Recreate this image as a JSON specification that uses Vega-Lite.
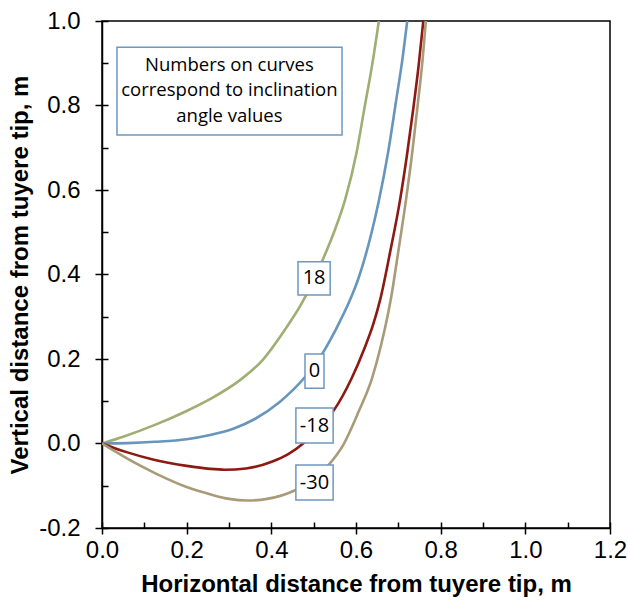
{
  "$schema": "https://vega.github.io/schema/vega-lite/v6.json",
  "width": 508,
  "height": 507,
  "autosize": {"type": "none"},
  "padding": {"left": 102, "top": 21, "right": 18, "bottom": 75},
  "background": "#ffffff",
  "config": {
    "view": {"stroke": "#000000", "strokeWidth": 1.5},
    "axis": {
      "grid": false,
      "domainColor": "#000000",
      "domainWidth": 1.5,
      "tickColor": "#000000",
      "tickWidth": 1.5,
      "labelColor": "#000000",
      "labelFont": "Liberation Sans",
      "labelFontSize": 24,
      "titleColor": "#000000",
      "titleFont": "Liberation Sans",
      "titleFontSize": 24,
      "titleFontWeight": "bold"
    }
  },
  "datasets": {
    "curves": [
      {"angle": "18", "x": 0, "y": 0},
      {"angle": "18", "x": 0.05, "y": 0.016},
      {"angle": "18", "x": 0.125, "y": 0.044},
      {"angle": "18", "x": 0.2, "y": 0.077},
      {"angle": "18", "x": 0.255, "y": 0.105},
      {"angle": "18", "x": 0.326, "y": 0.15},
      {"angle": "18", "x": 0.38, "y": 0.198},
      {"angle": "18", "x": 0.432, "y": 0.269},
      {"angle": "18", "x": 0.472, "y": 0.332},
      {"angle": "18", "x": 0.521, "y": 0.434},
      {"angle": "18", "x": 0.548, "y": 0.5},
      {"angle": "18", "x": 0.574, "y": 0.576},
      {"angle": "18", "x": 0.6016, "y": 0.69},
      {"angle": "18", "x": 0.621, "y": 0.8},
      {"angle": "18", "x": 0.638, "y": 0.895},
      {"angle": "18", "x": 0.654, "y": 1.0},
      {"angle": "0", "x": 0, "y": 0},
      {"angle": "0", "x": 0.06, "y": 0.001},
      {"angle": "0", "x": 0.125, "y": 0.004},
      {"angle": "0", "x": 0.2, "y": 0.01},
      {"angle": "0", "x": 0.255, "y": 0.02},
      {"angle": "0", "x": 0.31, "y": 0.035},
      {"angle": "0", "x": 0.361, "y": 0.058},
      {"angle": "0", "x": 0.4205, "y": 0.099},
      {"angle": "0", "x": 0.48, "y": 0.158},
      {"angle": "0", "x": 0.523, "y": 0.217},
      {"angle": "0", "x": 0.56, "y": 0.285},
      {"angle": "0", "x": 0.586, "y": 0.34},
      {"angle": "0", "x": 0.6055, "y": 0.39},
      {"angle": "0", "x": 0.637, "y": 0.5},
      {"angle": "0", "x": 0.653, "y": 0.57},
      {"angle": "0", "x": 0.676, "y": 0.69},
      {"angle": "0", "x": 0.695, "y": 0.813},
      {"angle": "0", "x": 0.709, "y": 0.905},
      {"angle": "0", "x": 0.721, "y": 1.0},
      {"angle": "-18", "x": 0, "y": 0},
      {"angle": "-18", "x": 0.03, "y": -0.011},
      {"angle": "-18", "x": 0.06, "y": -0.021},
      {"angle": "-18", "x": 0.125, "y": -0.039},
      {"angle": "-18", "x": 0.2, "y": -0.053},
      {"angle": "-18", "x": 0.255, "y": -0.06},
      {"angle": "-18", "x": 0.29, "y": -0.062},
      {"angle": "-18", "x": 0.34, "y": -0.059},
      {"angle": "-18", "x": 0.401, "y": -0.043},
      {"angle": "-18", "x": 0.44, "y": -0.025},
      {"angle": "-18", "x": 0.475, "y": 0.0},
      {"angle": "-18", "x": 0.51, "y": 0.036},
      {"angle": "-18", "x": 0.548, "y": 0.079},
      {"angle": "-18", "x": 0.59, "y": 0.155},
      {"angle": "-18", "x": 0.621, "y": 0.228},
      {"angle": "-18", "x": 0.64, "y": 0.28},
      {"angle": "-18", "x": 0.657, "y": 0.34},
      {"angle": "-18", "x": 0.68, "y": 0.45},
      {"angle": "-18", "x": 0.704, "y": 0.576},
      {"angle": "-18", "x": 0.72, "y": 0.68},
      {"angle": "-18", "x": 0.735, "y": 0.79},
      {"angle": "-18", "x": 0.748, "y": 0.895},
      {"angle": "-18", "x": 0.759, "y": 1.0},
      {"angle": "-30", "x": 0, "y": 0},
      {"angle": "-30", "x": 0.03, "y": -0.018},
      {"angle": "-30", "x": 0.06, "y": -0.036},
      {"angle": "-30", "x": 0.125, "y": -0.07},
      {"angle": "-30", "x": 0.2, "y": -0.103},
      {"angle": "-30", "x": 0.255, "y": -0.12},
      {"angle": "-30", "x": 0.3, "y": -0.131},
      {"angle": "-30", "x": 0.342, "y": -0.135},
      {"angle": "-30", "x": 0.39, "y": -0.131},
      {"angle": "-30", "x": 0.4575, "y": -0.11},
      {"angle": "-30", "x": 0.5, "y": -0.085},
      {"angle": "-30", "x": 0.535, "y": -0.051},
      {"angle": "-30", "x": 0.57, "y": -0.003},
      {"angle": "-30", "x": 0.606, "y": 0.075},
      {"angle": "-30", "x": 0.638, "y": 0.155},
      {"angle": "-30", "x": 0.659, "y": 0.232},
      {"angle": "-30", "x": 0.682, "y": 0.34},
      {"angle": "-30", "x": 0.7, "y": 0.455},
      {"angle": "-30", "x": 0.718, "y": 0.576},
      {"angle": "-30", "x": 0.733, "y": 0.69},
      {"angle": "-30", "x": 0.747, "y": 0.813},
      {"angle": "-30", "x": 0.757, "y": 0.905},
      {"angle": "-30", "x": 0.765, "y": 1.0}
    ],
    "labels": [
      {"text": "18", "x1": 0.463, "x2": 0.539, "y1": 0.3515, "y2": 0.43, "xc": 0.501, "yc": 0.391},
      {"text": "0", "x1": 0.4795, "x2": 0.5244, "y1": 0.131, "y2": 0.212, "xc": 0.502, "yc": 0.1715},
      {"text": "-18", "x1": 0.458, "x2": 0.546, "y1": 0.001, "y2": 0.084, "xc": 0.502, "yc": 0.0425},
      {"text": "-30", "x1": 0.458, "x2": 0.546, "y1": -0.134, "y2": -0.051, "xc": 0.502, "yc": -0.0925}
    ],
    "note": [
      {"x1": 0.0354, "x2": 0.567, "y1": 0.73, "y2": 0.938}
    ],
    "noteText": [
      {"text": "Numbers on curves", "xc": 0.301, "yc": 0.896},
      {"text": "correspond to inclination", "xc": 0.301, "yc": 0.837},
      {"text": "angle values", "xc": 0.301, "yc": 0.775}
    ]
  },
  "resolve": {"axis": {"x": "independent", "y": "independent"}},
  "layer": [
    {
      "data": {"name": "curves"},
      "mark": {"type": "line", "strokeWidth": 2.6, "interpolate": "monotone", "clip": true},
      "encoding": {
        "x": {
          "field": "x", "type": "quantitative",
          "scale": {"domain": [0, 1.2], "nice": false, "zero": false},
          "axis": {
            "orient": "bottom",
            "values": [0, 0.2, 0.4, 0.6, 0.8, 1.0, 1.2],
            "labelExpr": "replace(format(datum.value, '.1f'), '\u2212', '-')",
            "title": "Horizontal distance from tuyere tip, m",
            "tickSize": 6,
            "labelPadding": 4,
            "titlePadding": 10,
            "labelFlush": false,
            "labelOverlap": false
          }
        },
        "y": {
          "field": "y", "type": "quantitative",
          "scale": {"domain": [-0.2, 1.0], "nice": false, "zero": false},
          "axis": {
            "orient": "left",
            "values": [-0.2, 0, 0.2, 0.4, 0.6, 0.8, 1.0],
            "labelExpr": "replace(format(datum.value, '.1f'), '\u2212', '-')",
            "title": "Vertical distance from tuyere tip, m",
            "tickSize": 7,
            "labelPadding": 15,
            "titlePadding": 6,
            "labelFlush": false,
            "labelOverlap": false
          }
        },
        "color": {
          "field": "angle", "type": "nominal",
          "scale": {"domain": ["18", "0", "-18", "-30"], "range": ["#9fae73", "#6795bb", "#8c1a12", "#a99b78"]},
          "legend": null
        },
        "detail": {"field": "angle"}
      }
    },
    {
      "data": {"name": "labels"},
      "mark": {"type": "rect", "fill": "#ffffff", "stroke": "#6f98bf", "strokeWidth": 1.5},
      "encoding": {
        "x": {
          "field": "x1", "type": "quantitative",
          "scale": {"domain": [0, 1.2], "nice": false, "zero": false},
          "axis": {
            "orient": "bottom",
            "values": [0, 0.1, 0.2, 0.3, 0.4, 0.5, 0.6, 0.7, 0.8, 0.9, 1.0, 1.1, 1.2],
            "labels": false, "domain": false, "title": null,
            "tickSize": 6, "offset": -6
          }
        },
        "x2": {"field": "x2"},
        "y": {
          "field": "y1", "type": "quantitative",
          "scale": {"domain": [-0.2, 1.0], "nice": false, "zero": false},
          "axis": {
            "orient": "left",
            "values": [-0.2, -0.1, 0, 0.1, 0.2, 0.3, 0.4, 0.5, 0.6, 0.7, 0.8, 0.9, 1.0],
            "labels": false, "domain": false, "title": null,
            "tickSize": 6, "offset": -6
          }
        },
        "y2": {"field": "y2"}
      }
    },
    {
      "data": {"name": "labels"},
      "mark": {"type": "text", "font": "Open Sans", "fontSize": 20, "color": "#000000", "align": "center", "baseline": "middle"},
      "encoding": {
        "x": {"field": "xc", "type": "quantitative", "scale": {"domain": [0, 1.2], "nice": false, "zero": false}, "axis": null},
        "y": {"field": "yc", "type": "quantitative", "scale": {"domain": [-0.2, 1.0], "nice": false, "zero": false}, "axis": null},
        "text": {"field": "text"}
      }
    },
    {
      "data": {"name": "note"},
      "mark": {"type": "rect", "fill": "#ffffff", "stroke": "#6f98bf", "strokeWidth": 1.5},
      "encoding": {
        "x": {"field": "x1", "type": "quantitative", "scale": {"domain": [0, 1.2], "nice": false, "zero": false}, "axis": null},
        "x2": {"field": "x2"},
        "y": {"field": "y1", "type": "quantitative", "scale": {"domain": [-0.2, 1.0], "nice": false, "zero": false}, "axis": null},
        "y2": {"field": "y2"}
      }
    },
    {
      "data": {"name": "noteText"},
      "mark": {"type": "text", "font": "Open Sans", "fontSize": 18.5, "color": "#000000", "align": "center", "baseline": "middle"},
      "encoding": {
        "x": {"field": "xc", "type": "quantitative", "scale": {"domain": [0, 1.2], "nice": false, "zero": false}, "axis": null},
        "y": {"field": "yc", "type": "quantitative", "scale": {"domain": [-0.2, 1.0], "nice": false, "zero": false}, "axis": null},
        "text": {"field": "text"}
      }
    }
  ]
}
